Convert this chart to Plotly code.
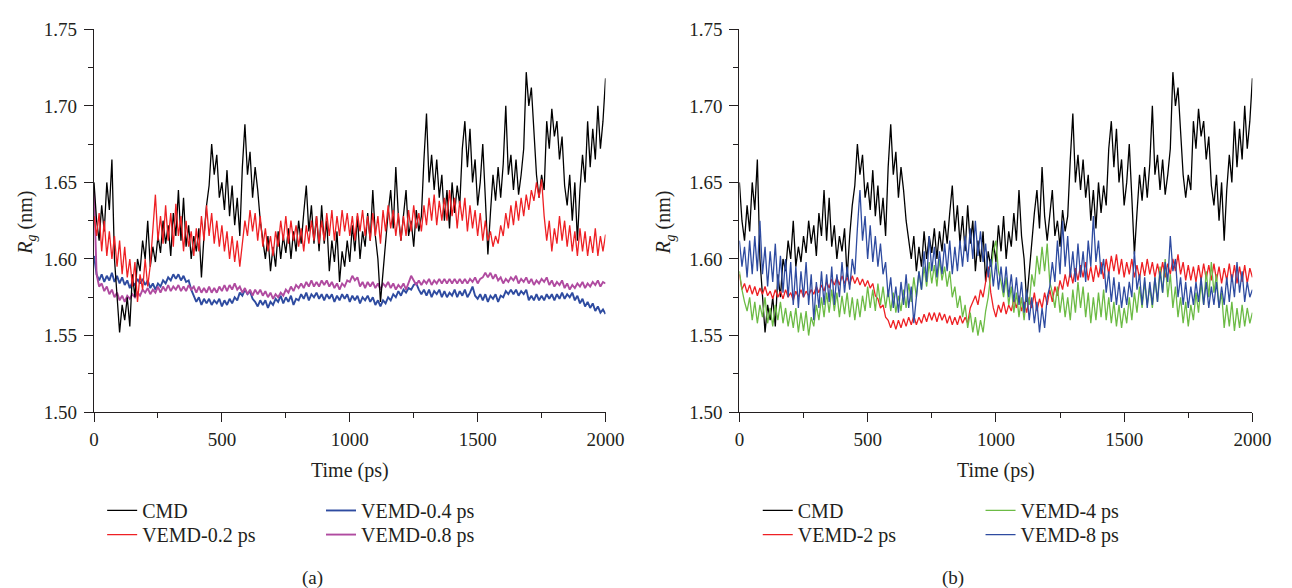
import plotly.graph_objects as go

# ---------------- data (every 10 ps) ----------------
time_ps = list(range(0, 2001, 10))

cmd = [1.650, 1.625, 1.612, 1.635, 1.618, 1.650, 1.632, 1.665, 1.600, 1.575,
       1.552, 1.570, 1.560, 1.575, 1.556, 1.590, 1.575, 1.600, 1.592, 1.612,
       1.600, 1.625, 1.595, 1.608, 1.598, 1.615, 1.604, 1.625, 1.610, 1.622,
       1.602, 1.630, 1.615, 1.645, 1.612, 1.640, 1.608, 1.622, 1.600, 1.615,
       1.605, 1.620, 1.588, 1.615, 1.635, 1.648, 1.675, 1.655, 1.668, 1.640,
       1.650, 1.632, 1.658, 1.628, 1.648, 1.622, 1.640, 1.615, 1.660, 1.688,
       1.655, 1.670, 1.640, 1.660, 1.645, 1.625, 1.612, 1.600, 1.615, 1.592,
       1.608, 1.595, 1.618, 1.600, 1.615, 1.604, 1.620, 1.600, 1.618, 1.605,
       1.625, 1.610, 1.630, 1.648, 1.618, 1.635, 1.610, 1.628, 1.605, 1.635,
       1.610, 1.625, 1.592, 1.612, 1.598, 1.618, 1.585, 1.605, 1.595, 1.612,
       1.598, 1.622, 1.605, 1.628, 1.600, 1.618, 1.608, 1.630, 1.612, 1.645,
       1.615, 1.600, 1.572, 1.592, 1.610, 1.630, 1.645, 1.620, 1.660, 1.628,
       1.612, 1.630, 1.645, 1.615, 1.625, 1.608, 1.632, 1.618, 1.628, 1.665,
       1.695, 1.650, 1.668, 1.645, 1.665, 1.640, 1.655, 1.625, 1.645, 1.620,
       1.650, 1.630, 1.648, 1.635, 1.672, 1.690, 1.660, 1.685, 1.650, 1.665,
       1.635, 1.650, 1.675, 1.640, 1.603, 1.630, 1.655, 1.638, 1.660, 1.640,
       1.662, 1.700, 1.655, 1.668, 1.645, 1.665, 1.642, 1.655, 1.672, 1.722,
       1.700, 1.712, 1.680, 1.655, 1.640, 1.655, 1.645, 1.690, 1.672, 1.698,
       1.680, 1.690, 1.665, 1.680, 1.648, 1.635, 1.655, 1.625, 1.650, 1.612,
       1.645, 1.668, 1.650, 1.690, 1.660, 1.685, 1.665, 1.700, 1.672, 1.690,
       1.718]

vemd_02 = [1.628, 1.615, 1.630, 1.605, 1.625, 1.602, 1.618, 1.600, 1.615, 1.595,
           1.612, 1.590, 1.608, 1.588, 1.600, 1.582, 1.598, 1.572, 1.590, 1.580,
           1.600, 1.582, 1.596, 1.620, 1.642, 1.612, 1.628, 1.610, 1.635, 1.612,
           1.630, 1.608, 1.636, 1.615, 1.628, 1.605, 1.625, 1.608, 1.618, 1.602,
           1.620, 1.605, 1.628, 1.612, 1.635, 1.615, 1.630, 1.610, 1.625, 1.608,
           1.622, 1.605, 1.618, 1.600, 1.615, 1.598, 1.612, 1.595, 1.610, 1.625,
           1.615, 1.632, 1.618, 1.630, 1.612, 1.628, 1.608, 1.620, 1.605, 1.615,
           1.602, 1.618, 1.608, 1.625, 1.612, 1.628, 1.610, 1.625, 1.612, 1.622,
           1.608, 1.620, 1.605, 1.622, 1.610, 1.625, 1.612, 1.628, 1.610, 1.625,
           1.612, 1.630, 1.615, 1.632, 1.612, 1.628, 1.615, 1.632, 1.618, 1.630,
           1.615, 1.628, 1.612, 1.630, 1.618, 1.632, 1.615, 1.628, 1.612, 1.630,
           1.615, 1.628, 1.610, 1.632, 1.618, 1.635, 1.620, 1.632, 1.615, 1.630,
           1.612, 1.628, 1.615, 1.632, 1.618, 1.635, 1.620, 1.630, 1.618, 1.635,
           1.622, 1.640, 1.625, 1.642, 1.622, 1.638, 1.625, 1.640, 1.625, 1.645,
           1.628, 1.640, 1.620, 1.638, 1.625, 1.640, 1.618, 1.635, 1.620, 1.632,
           1.615, 1.630, 1.612, 1.625, 1.612, 1.618, 1.608, 1.615, 1.610, 1.622,
           1.615, 1.630, 1.620, 1.635, 1.622, 1.638, 1.625, 1.640, 1.628, 1.642,
           1.632, 1.645, 1.638, 1.650, 1.640, 1.652, 1.628, 1.612, 1.625, 1.605,
           1.620, 1.610, 1.628, 1.612, 1.625, 1.608, 1.622, 1.605, 1.618, 1.602,
           1.620, 1.605, 1.618, 1.602, 1.615, 1.604, 1.620, 1.602, 1.615, 1.605,
           1.616]

vemd_04 = [1.602, 1.590, 1.586, 1.590, 1.585, 1.589, 1.586, 1.591, 1.585, 1.589,
           1.584, 1.588, 1.583, 1.586, 1.581, 1.585, 1.583, 1.587, 1.584, 1.587,
           1.583, 1.586, 1.581, 1.584, 1.580, 1.584, 1.582, 1.586, 1.584, 1.588,
           1.586, 1.590, 1.587, 1.590, 1.586, 1.589, 1.585, 1.586, 1.580, 1.576,
           1.572, 1.575, 1.570, 1.574, 1.571, 1.574, 1.570, 1.573, 1.571, 1.574,
           1.569, 1.573, 1.570, 1.574, 1.571, 1.575, 1.573, 1.578, 1.576, 1.580,
           1.577, 1.579, 1.574, 1.572, 1.569, 1.573, 1.570, 1.573, 1.568, 1.572,
           1.570, 1.574, 1.572, 1.576, 1.571, 1.575, 1.572, 1.576, 1.570, 1.574,
           1.573, 1.577, 1.574, 1.578, 1.573, 1.577, 1.575, 1.578, 1.574, 1.577,
           1.573, 1.577, 1.574, 1.577, 1.572, 1.576, 1.573, 1.577, 1.574, 1.577,
           1.572, 1.576, 1.573, 1.576, 1.571, 1.575, 1.573, 1.576, 1.572, 1.575,
           1.570, 1.573, 1.569, 1.573, 1.571, 1.575, 1.573, 1.577, 1.575, 1.579,
           1.576, 1.580, 1.578, 1.581, 1.580, 1.583, 1.584, 1.580, 1.577, 1.580,
           1.576, 1.580, 1.575, 1.579, 1.577, 1.580, 1.575, 1.579, 1.575, 1.578,
           1.576, 1.580, 1.575, 1.579, 1.576, 1.580, 1.575, 1.578, 1.582, 1.576,
           1.574, 1.577, 1.573, 1.577, 1.572, 1.576, 1.574, 1.577, 1.572, 1.576,
           1.575, 1.579, 1.577, 1.580, 1.577, 1.580, 1.576, 1.579, 1.577, 1.580,
           1.573, 1.576, 1.573, 1.577, 1.573, 1.576, 1.573, 1.577, 1.574, 1.577,
           1.573, 1.577, 1.574, 1.578, 1.574, 1.577, 1.575, 1.578, 1.573, 1.576,
           1.571, 1.574, 1.569, 1.572, 1.568, 1.571, 1.566, 1.569, 1.565, 1.567,
           1.564]

vemd_08 = [1.645, 1.590, 1.582, 1.584, 1.579, 1.582, 1.577, 1.580, 1.575, 1.578,
           1.573, 1.576, 1.572, 1.576, 1.574, 1.577, 1.575, 1.578, 1.576, 1.580,
           1.578, 1.581, 1.577, 1.580, 1.578, 1.582, 1.578, 1.582, 1.579, 1.583,
           1.579, 1.582, 1.580, 1.583, 1.579, 1.582, 1.579, 1.583, 1.580, 1.582,
           1.578, 1.582, 1.578, 1.581, 1.578, 1.582, 1.578, 1.581, 1.578, 1.582,
           1.579, 1.583, 1.579, 1.583, 1.580, 1.584, 1.580, 1.582, 1.578, 1.581,
           1.577, 1.580, 1.576, 1.580, 1.577, 1.580, 1.576, 1.579, 1.575, 1.578,
           1.574, 1.577, 1.575, 1.578, 1.576, 1.580, 1.578, 1.582, 1.579, 1.583,
           1.581, 1.584, 1.581, 1.585, 1.582, 1.586, 1.582, 1.585, 1.582, 1.586,
           1.583, 1.586, 1.582, 1.585, 1.581, 1.584, 1.580, 1.584, 1.582, 1.586,
           1.585, 1.589, 1.586, 1.588, 1.582, 1.585, 1.581, 1.585, 1.582, 1.585,
           1.581, 1.584, 1.580, 1.584, 1.582, 1.585, 1.581, 1.584, 1.580, 1.583,
           1.581, 1.584, 1.580, 1.584, 1.589, 1.586, 1.583, 1.586, 1.583, 1.586,
           1.584, 1.587, 1.583, 1.586, 1.584, 1.587, 1.584, 1.587, 1.584, 1.587,
           1.584, 1.587, 1.584, 1.587, 1.584, 1.587, 1.584, 1.587, 1.585, 1.588,
           1.584, 1.587, 1.588, 1.591, 1.588, 1.591, 1.587, 1.590, 1.586, 1.588,
           1.584, 1.587, 1.585, 1.588, 1.586, 1.589, 1.584, 1.587, 1.585, 1.588,
           1.584, 1.587, 1.583, 1.586, 1.584, 1.587, 1.585, 1.588, 1.583, 1.586,
           1.582, 1.585, 1.583, 1.586, 1.581, 1.584, 1.580, 1.583, 1.581, 1.584,
           1.582, 1.585, 1.581, 1.584, 1.582, 1.585, 1.583, 1.586, 1.582, 1.585,
           1.584]

vemd_2 = [1.590, 1.580, 1.584, 1.578, 1.583, 1.577, 1.582, 1.576, 1.581, 1.577,
          1.582, 1.576, 1.579, 1.574, 1.580, 1.575, 1.579, 1.574, 1.580, 1.575,
          1.578, 1.573, 1.579, 1.575, 1.580, 1.575, 1.579, 1.576, 1.580, 1.577,
          1.582, 1.578, 1.583, 1.579, 1.585, 1.581, 1.587, 1.583, 1.588, 1.583,
          1.589, 1.584, 1.588, 1.583, 1.589, 1.584, 1.588, 1.583, 1.587, 1.582,
          1.586, 1.581, 1.584, 1.576, 1.574, 1.568, 1.570, 1.562, 1.560, 1.555,
          1.560, 1.554, 1.560, 1.555, 1.561, 1.556, 1.562, 1.557, 1.563, 1.557,
          1.562, 1.558, 1.564, 1.559, 1.565, 1.560, 1.565, 1.559, 1.565, 1.560,
          1.564, 1.558, 1.563, 1.557, 1.562, 1.557, 1.563, 1.558, 1.562, 1.558,
          1.568, 1.572, 1.576, 1.570, 1.580, 1.575, 1.585, 1.595, 1.578, 1.568,
          1.562, 1.570, 1.565, 1.572, 1.564, 1.570, 1.566, 1.574, 1.568, 1.576,
          1.566, 1.572, 1.565, 1.575, 1.568, 1.578, 1.566, 1.574, 1.568, 1.578,
          1.570, 1.580, 1.572, 1.582, 1.576, 1.586, 1.580, 1.590, 1.582, 1.592,
          1.584, 1.594, 1.586, 1.596, 1.588, 1.598, 1.586, 1.595, 1.585, 1.596,
          1.588, 1.598, 1.587, 1.600, 1.590, 1.602, 1.592, 1.603, 1.590, 1.600,
          1.588, 1.598, 1.590, 1.600, 1.588, 1.596, 1.587, 1.598, 1.589, 1.600,
          1.590, 1.598, 1.588, 1.597, 1.588, 1.598, 1.588, 1.597, 1.590, 1.600,
          1.592, 1.603, 1.590, 1.598, 1.586, 1.596, 1.586, 1.595, 1.585, 1.596,
          1.586, 1.597, 1.587, 1.596, 1.586, 1.597, 1.586, 1.595, 1.584, 1.594,
          1.586, 1.597, 1.585, 1.596, 1.584, 1.595, 1.585, 1.596, 1.584, 1.594,
          1.588]

vemd_4 = [1.592, 1.580, 1.572, 1.566, 1.575, 1.560, 1.572, 1.558, 1.570, 1.562,
          1.575, 1.558, 1.568, 1.556, 1.570, 1.560, 1.572, 1.558, 1.568, 1.556,
          1.566, 1.555, 1.568, 1.552, 1.565, 1.553, 1.566, 1.550, 1.562, 1.556,
          1.570, 1.560, 1.575, 1.562, 1.578, 1.565, 1.580, 1.566, 1.578, 1.562,
          1.576, 1.564, 1.578, 1.562, 1.575, 1.560, 1.574, 1.562, 1.576, 1.566,
          1.582, 1.568, 1.580, 1.566, 1.584, 1.570, 1.582, 1.568, 1.580, 1.566,
          1.578, 1.565, 1.576, 1.566, 1.580, 1.568, 1.584, 1.572, 1.588, 1.575,
          1.592, 1.580, 1.595, 1.582, 1.598, 1.584, 1.596, 1.582, 1.600, 1.586,
          1.595, 1.582, 1.592, 1.575, 1.582, 1.568, 1.576, 1.562, 1.570, 1.555,
          1.565, 1.552, 1.562, 1.550, 1.560, 1.552, 1.566, 1.575, 1.590, 1.605,
          1.612, 1.592, 1.585, 1.575, 1.588, 1.570, 1.582, 1.565, 1.578, 1.562,
          1.575, 1.560, 1.578, 1.570, 1.590, 1.582, 1.602, 1.590, 1.608, 1.592,
          1.610, 1.585, 1.578, 1.568, 1.582, 1.565, 1.578, 1.562, 1.575, 1.560,
          1.580, 1.565, 1.585, 1.568, 1.582, 1.562, 1.578, 1.558, 1.575, 1.560,
          1.578, 1.562, 1.580, 1.560, 1.575, 1.558, 1.572, 1.556, 1.570, 1.555,
          1.568, 1.558, 1.575, 1.560, 1.578, 1.565, 1.582, 1.568, 1.585, 1.570,
          1.582, 1.568, 1.588, 1.572, 1.595, 1.578, 1.600, 1.575, 1.590, 1.568,
          1.582, 1.562, 1.575, 1.558, 1.572, 1.556, 1.570, 1.560, 1.578, 1.565,
          1.585, 1.570, 1.592, 1.575, 1.598, 1.578, 1.590, 1.568, 1.578, 1.555,
          1.570, 1.556, 1.572, 1.553, 1.568, 1.555, 1.570, 1.556, 1.568, 1.558,
          1.565]

vemd_8 = [1.612, 1.595, 1.608, 1.588, 1.612, 1.590, 1.615, 1.592, 1.625, 1.590,
          1.608, 1.582, 1.605, 1.585, 1.610, 1.580, 1.602, 1.578, 1.600, 1.575,
          1.598, 1.570, 1.595, 1.568, 1.592, 1.575, 1.598, 1.570, 1.590, 1.560,
          1.585, 1.568, 1.592, 1.570, 1.590, 1.572, 1.595, 1.570, 1.590, 1.575,
          1.598, 1.578, 1.595, 1.580, 1.600, 1.590, 1.620, 1.645, 1.612, 1.628,
          1.600, 1.622, 1.598, 1.615, 1.595, 1.610, 1.590, 1.598, 1.575, 1.588,
          1.568, 1.582, 1.565, 1.585, 1.570, 1.590, 1.568, 1.582, 1.558, 1.575,
          1.592, 1.580, 1.605, 1.585, 1.615, 1.592, 1.608, 1.588, 1.605, 1.590,
          1.610, 1.592, 1.612, 1.590, 1.608, 1.592, 1.612, 1.595, 1.615, 1.598,
          1.620, 1.600, 1.625, 1.602, 1.618, 1.598, 1.610, 1.588, 1.600, 1.582,
          1.598, 1.580, 1.595, 1.578, 1.595, 1.575, 1.590, 1.572, 1.588, 1.570,
          1.585, 1.565, 1.580, 1.560, 1.575, 1.558, 1.572, 1.552, 1.568, 1.555,
          1.575, 1.582, 1.598, 1.585, 1.612, 1.590, 1.625, 1.595, 1.615, 1.588,
          1.605, 1.585, 1.610, 1.588, 1.605, 1.585, 1.612, 1.595, 1.628, 1.598,
          1.612, 1.590, 1.600, 1.578, 1.592, 1.572, 1.588, 1.570, 1.585, 1.568,
          1.582, 1.570, 1.585, 1.575, 1.605, 1.580, 1.590, 1.570, 1.588, 1.568,
          1.585, 1.570, 1.588, 1.572, 1.592, 1.578, 1.598, 1.585, 1.615, 1.592,
          1.600, 1.575, 1.588, 1.570, 1.585, 1.568, 1.582, 1.570, 1.585, 1.572,
          1.588, 1.570, 1.585, 1.568, 1.582, 1.570, 1.585, 1.568, 1.582, 1.570,
          1.588, 1.572, 1.590, 1.575, 1.598, 1.578, 1.592, 1.572, 1.585, 1.575,
          1.580]

names_a = ["CMD", "VEMD-0.2 ps", "VEMD-0.4 ps", "VEMD-0.8 ps"]
names_b = ["CMD", "VEMD-2 ps", "VEMD-4 ps", "VEMD-8 ps"]
y_ticks = [1.50, 1.55, 1.60, 1.65, 1.70, 1.75]
x_ticks = [0, 500, 1000, 1500, 2000]

# ---------------- styling ----------------
BLACK = "#000000"
RED = "#ee2024"
BLUE = "#2e4ba0"
MAGENTA = "#b04ba0"
GREEN = "#6cbb45"
INK = "#231f20"
FONT = "Liberation Serif"
W, H = 1292, 588

fig = go.Figure()


def add(y, name, color, width, xa, ya, leg):
    fig.add_trace(go.Scatter(x=time_ps, y=y, name=name, mode="lines",
                             line=dict(color=color, width=width),
                             xaxis=xa, yaxis=ya, legend=leg))


# panel (a): draw order blue, magenta, black, red
add(vemd_04, names_a[2], BLUE, 1.9, "x", "y", "legend3")
add(vemd_08, names_a[3], MAGENTA, 1.9, "x", "y", "legend4")
add(cmd, names_a[0], BLACK, 1.3, "x", "y", "legend")
add(vemd_02, names_a[1], RED, 1.3, "x", "y", "legend2")

# panel (b): draw order black, red, green, blue
add(cmd, names_b[0], BLACK, 1.3, "x2", "y2", "legend5")
add(vemd_2, names_b[1], RED, 1.3, "x2", "y2", "legend6")
add(vemd_4, names_b[2], GREEN, 1.3, "x2", "y2", "legend7")
add(vemd_8, names_b[3], BLUE, 1.3, "x2", "y2", "legend8")

y_dom = [1 - 417 / H, 1 - 20 / H]
xa_dom = [90.7 / W, 611.9 / W]
xb_dom = [748.3 / W, 1271.0 / W]

tickfont = dict(family=FONT, size=19, color=INK)


def xaxis(dom, anchor):
    return dict(domain=dom, anchor=anchor, range=[0, 2000], tickvals=x_ticks,
                ticks="outside", ticklen=9, tickwidth=1.2, tickcolor=INK,
                showline=True, linecolor=INK, linewidth=1.3, showgrid=False,
                zeroline=False, tickfont=tickfont, ticklabelstandoff=1,
                minor=dict(dtick=250, tick0=0, ticks="outside", ticklen=5,
                           tickwidth=1.2, tickcolor=INK, showgrid=False))


def yaxis(anchor):
    return dict(domain=y_dom, anchor=anchor, range=[1.50, 1.75], tickvals=y_ticks,
                ticktext=[f"{v:.2f}" for v in y_ticks],
                ticks="outside", ticklen=9, tickwidth=1.2, tickcolor=INK,
                showline=True, linecolor=INK, linewidth=1.3, showgrid=False,
                zeroline=False, tickfont=tickfont, ticklabelstandoff=3,
                minor=dict(dtick=0.025, tick0=1.5, ticks="outside", ticklen=5,
                           tickwidth=1.2, tickcolor=INK, showgrid=False))


legfont = dict(family=FONT, size=20, color=INK)


def leg(px, py):
    return dict(x=px / W, y=1 - py / H, xanchor="left", yanchor="middle",
                font=legfont, bgcolor="rgba(0,0,0,0)", borderwidth=0,
                tracegroupgap=0, itemwidth=30, traceorder="normal")


annots = []
for cx in [(90.7 + 611.9) / 2, (748.3 + 1271.0) / 2]:
    annots.append(dict(x=cx / W, y=1 - 478 / H, xref="paper", yref="paper", text="Time (ps)",
                       showarrow=False, xanchor="center", yanchor="middle",
                       font=dict(family=FONT, size=20, color=INK)))
for cx, cap in [(313, "(a)"), (966, "(b)")]:
    annots.append(dict(x=cx / W, y=1 - 589 / H, xref="paper", yref="paper", text=cap,
                       showarrow=False, xanchor="center", yanchor="middle",
                       font=dict(family=FONT, size=19, color=INK)))
for cx in [21, 672]:
    annots.append(dict(x=cx / W, y=1 - 221 / H, xref="paper", yref="paper",
                       text="<i>R</i><sub><i>g</i></sub> (nm)", textangle=-90,
                       showarrow=False, xanchor="center", yanchor="middle",
                       font=dict(family=FONT, size=20, color=INK)))

fig.update_layout(
    width=W, height=H, margin=dict(l=0, r=0, t=0, b=0),
    paper_bgcolor="white", plot_bgcolor="white",
    xaxis=xaxis(xa_dom, "y"), yaxis=yaxis("x"),
    xaxis2=xaxis(xb_dom, "y2"), yaxis2=yaxis("x2"),
    legend=leg(99, 519), legend2=leg(99, 544),
    legend3=leg(322, 519), legend4=leg(322, 544),
    legend5=leg(767, 519), legend6=leg(767, 544),
    legend7=leg(994, 519), legend8=leg(994, 544),
    annotations=annots,
    showlegend=True,
)

fig.write_html("out.html")
